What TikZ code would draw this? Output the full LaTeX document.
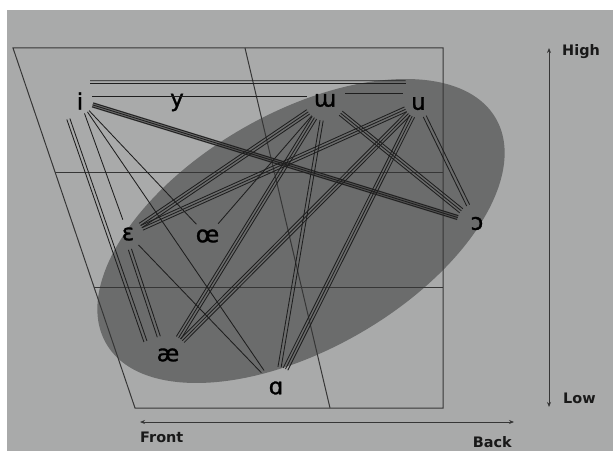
\documentclass[tikz,border=0pt]{standalone}
\usepackage{fontspec}
\setmainfont{DejaVu Sans}
\newfontfamily\ipafont{DejaVu Sans}[FakeBold=1.2]
\usetikzlibrary{calc,arrows.meta}

\definecolor{paper}{HTML}{A9AAAA}
\definecolor{blob}{HTML}{6B6C6C}
\definecolor{ink}{HTML}{1E1E1E}
\definecolor{frame}{HTML}{363636}

\tikzset{
  vowel/.style={circle, inner sep=0pt, minimum size=#1, text=black,
    font=\ipafont\fontsize{23}{23}\selectfont},
  vowel/.default=30bp,
  link/.style={draw=ink, line width=0.85bp},
  gridline/.style={draw=frame, line width=1bp},
  axis/.style={draw=frame, line width=1bp,
    {Stealth[length=5bp,width=4bp]}-{Stealth[length=5bp,width=4bp]}},
  axislabel/.style={font=\bfseries\fontsize{14.5}{14.5}\selectfont, text=black!90, inner sep=0pt}
}

% parallel strokes between two nodes, offsets given as a list of lengths
\newcommand\ribbon[4][]{%
  \path (#2) -- (#3) coordinate[pos=0] (rbS) coordinate[pos=1] (rbE);
  \foreach \o in {#4}{\draw[link,#1] ($(rbS)!\o!90:(rbE)$) -- ($(rbE)!\o!-90:(rbS)$);}%
}

\begin{document}
\begin{tikzpicture}[x=1bp,y=-1bp]
  \useasboundingbox (0,0) rectangle (613,451);
  \fill[white] (0,0) rectangle (613,451);
  \fill[paper] (7,10) rectangle (613,451);

  % vowel space
  \fill[blob, rotate around={30:(301,231)}] (301,231) ellipse [x radius=225, y radius=118];

  \coordinate (TL) at (13,48);
  \coordinate (TR) at (443,48);
  \coordinate (BR) at (443,408);
  \coordinate (BL) at (135,408);
  \coordinate (TM) at (245,48);
  \coordinate (BM) at (330,408);
  \draw[gridline] (TL) -- (TR) -- (BR) -- (BL) -- cycle;
  \draw[gridline] (TM) -- (BM);
  \draw[gridline] ($(TL)!125/360!(BL)$) -- ($(TR)!125/360!(BR)$);
  \draw[gridline] ($(TL)!240/360!(BL)$) -- ($(TR)!240/360!(BR)$);

  % vowels
  \node[vowel=26bp] (i) at (80,101) {i};
  \node[vowel] (y) at (177,102.5) {y};
  \node[vowel=40bp] (w) at (325,100.5) {ɯ};
  \node[vowel=28bp] (u) at (418.5,103.5) {u};
  \node[vowel=30bp] (E) at (128,234) {ɛ};
  \node[vowel=32bp] (oe) at (207.5,236) {œ};
  \node[vowel=40bp] (o) at (477,223.5) {ɔ};
  \node[vowel=40bp] (ae) at (168,355) {æ};
  \node[vowel=42bp] (a) at (276,388) {ɑ};

  % top rows
  \foreach \o in {-1.3,1.3}
    \draw[link] ([shift={(10,-19+\o)}]i.center) -- ([shift={(-13,-21.5+\o)}]u.center);
  \draw[link] ([shift={(12,-5)}]i.center) -- ([shift={(-18,-4.5)}]w.center);
  \draw[link] ([shift={(20,-7.5)}]w.center) -- ([shift={(-16,-10.5)}]u.center);

  % i to the back
  \path (i) -- (o) coordinate[pos=0] (io1) coordinate[pos=1] (io2);
  \draw[draw=ink!85, line width=5.5bp, opacity=0.6] (io1) -- (io2);
  \ribbon{i}{o}{-2bp,0bp,2bp}

  % links from i
  \ribbon{i}{ae}{-18.5bp,-15.3bp}
  \ribbon{i}{E}{0bp}
  \ribbon{i}{oe}{0bp}
  \ribbon{i}{a}{0bp}

  % links from the front mid vowels
  \ribbon{E}{ae}{-4.6bp,-1.4bp}
  \ribbon{E}{a}{0bp}
  \ribbon{E}{w}{-2.6bp,0bp,2.6bp}
  \ribbon{E}{u}{-2.6bp,0bp,2.6bp}
  \ribbon{oe}{w}{0bp}

  % links from the low vowels
  \ribbon{ae}{w}{-2.6bp,0bp,2.6bp}
  \ribbon{ae}{u}{-2.6bp,0bp,2.6bp}
  \ribbon{a}{w}{-1.6bp,1.6bp}
  \ribbon{a}{u}{-2.6bp,0bp,2.6bp}

  % links to the back
  \ribbon{w}{o}{-2.6bp,0bp,2.6bp}
  \ribbon{u}{o}{-1.6bp,1.6bp}

  % axes
  \coordinate (hiA) at (549,48);
  \coordinate (loA) at (549,407);
  \coordinate (frA) at (140,422);
  \coordinate (bkA) at (514,422);
  \draw[axis] (loA) -- (hiA);
  \draw[axis] (frA) -- (bkA);
  \node[axislabel, anchor=west] (high) at (562,52) {High};
  \node[axislabel, anchor=west] (low) at (563,398) {Low};
  \node[axislabel, anchor=west] (front) at (140,437) {Front};
  \node[axislabel, anchor=east] (back) at (512,442) {Back};
\end{tikzpicture}
\end{document}
